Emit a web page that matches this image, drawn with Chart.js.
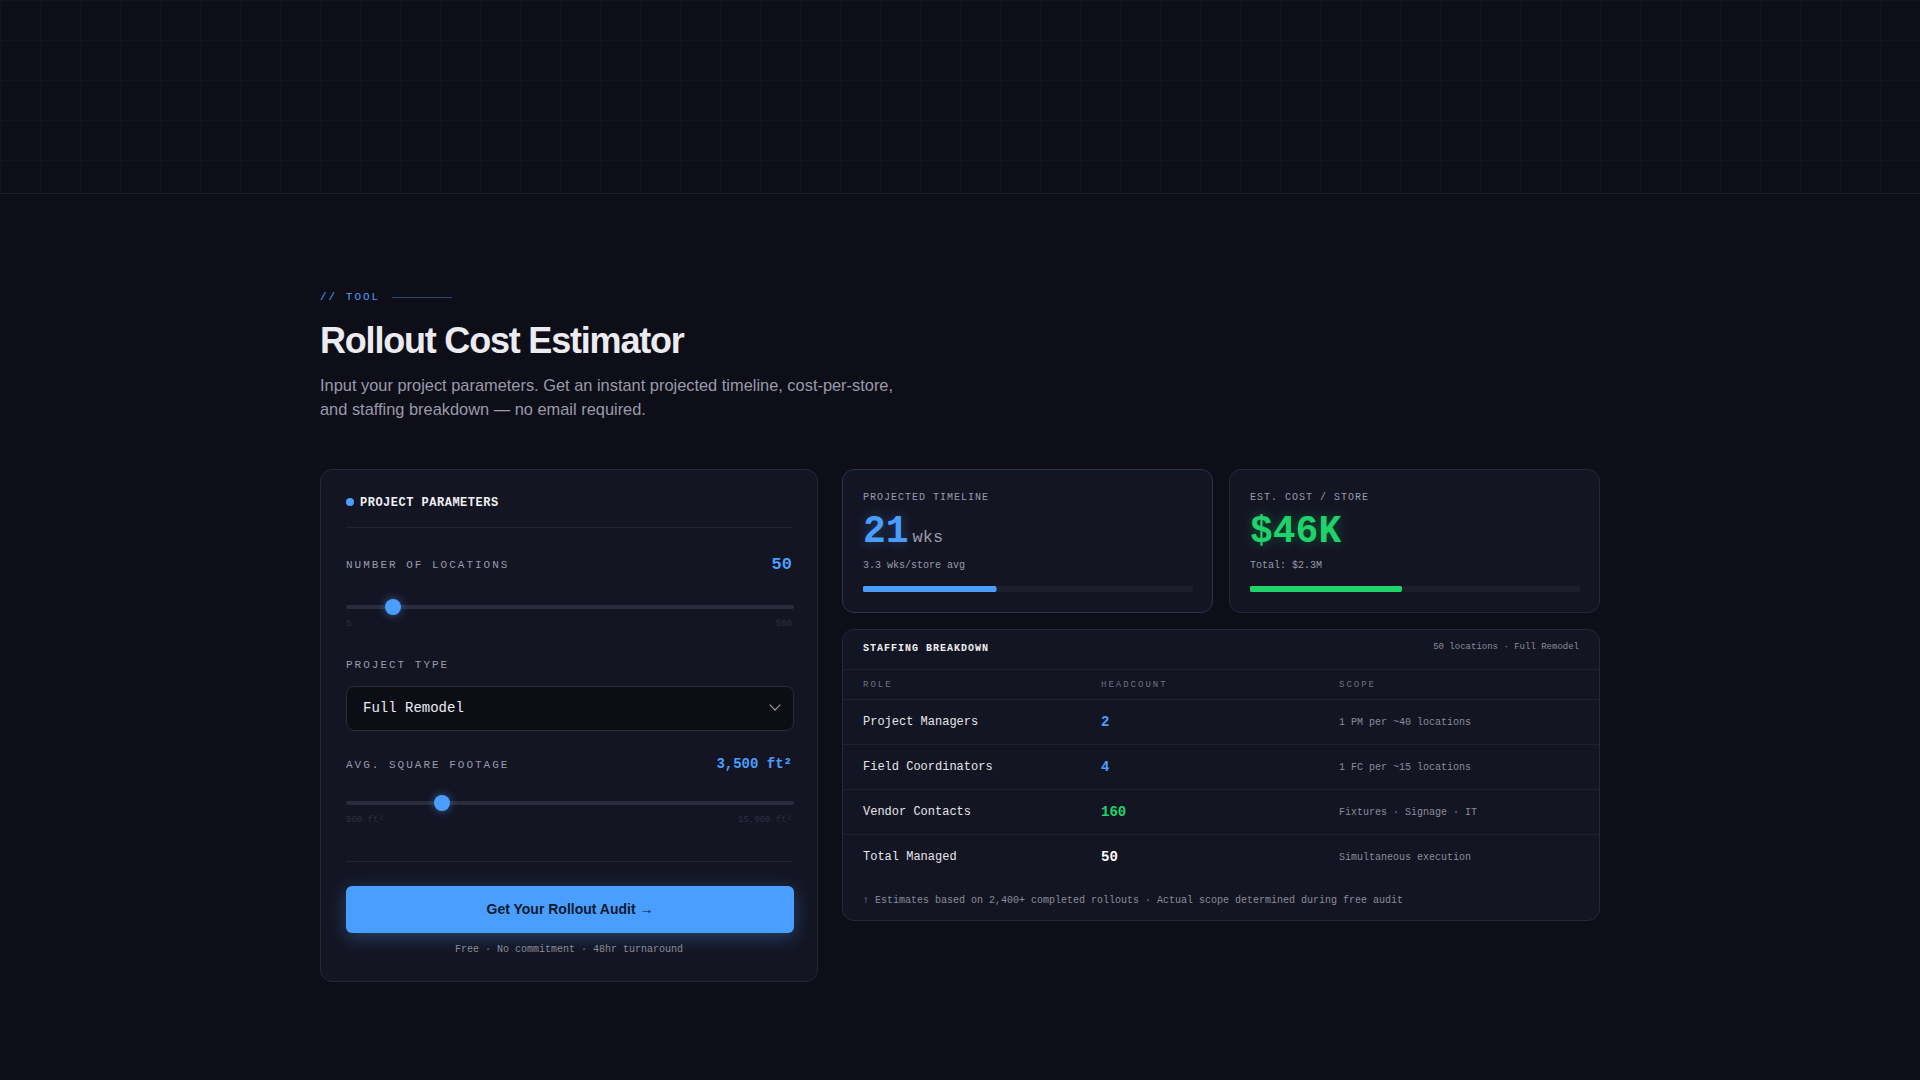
<!DOCTYPE html>
<html>
<head>
<meta charset="utf-8">
<script src="https://cdn.jsdelivr.net/npm/chart.js@4"></script>
<style>
  body { margin:0; width:1920px; height:1080px; background:#0e0e19; color:#e8e8ee; font-family:"Liberation Sans", Arial, sans-serif; overflow:hidden; position:relative; }
  .grid-band { position:absolute; left:0; top:0; width:1920px; height:193px; border-bottom:1px solid #1c1c2a;
    background-image:linear-gradient(#16162299 1px, transparent 1px), linear-gradient(90deg, #16162299 1px, transparent 1px); background-size:40px 40px; }
  .mono { font-family:"Liberation Mono", monospace; }
  .tag { position:absolute; left:320px; top:291px; font-size:11px; letter-spacing:2px; color:#4a9eff; }
  .tag:after { content:""; display:inline-block; width:60px; height:1px; background:#2c4a78; margin-left:12px; vertical-align:middle; }
  h1 { position:absolute; left:320px; top:320px; margin:0; font-size:36px; font-weight:bold; letter-spacing:-1.2px; color:#ecebf0; }
  .sub { position:absolute; left:320px; top:373px; font-size:16.4px; line-height:24px; color:#9a9aaa; }
  .panel { position:absolute; background:#141523; border:1px solid #26283a; border-radius:12px; box-sizing:border-box; }
  .lbl { font-family:"Liberation Mono", monospace; font-size:11px; letter-spacing:2px; color:#9a9aaa; }
  .track { position:absolute; height:4px; background:#2a2c3c; border-radius:2px; }
  .thumb { position:absolute; width:16px; height:16px; border-radius:50%; background:#4a9eff; box-shadow:0 0 8px #4a9eff88; top:-6px; margin-left:-8px; }
  .tiny { position:absolute; font-family:"Liberation Mono", monospace; font-size:9px; color:#2e3040; }
  table { border-collapse:collapse; width:100%; font-family:"Liberation Mono", monospace; }
  td, th { text-align:left; padding:0 20px; border-top:1px solid #1f2131; }
  th { font-size:9px; letter-spacing:2px; color:#70727f; font-weight:normal; height:29px; }
  td { height:44px; font-size:12px; color:#e6e6ec; }
  td.scope { font-size:10px; color:#8a8c99; }
  td.hc { font-size:14px; font-weight:bold; }
</style>
</head>
<body>
<div class="grid-band"></div>
<div class="tag mono">// TOOL</div>
<h1>Rollout Cost Estimator</h1>
<div class="sub">Input your project parameters. Get an instant projected timeline, cost-per-store,<br>and staffing breakdown — no email required.</div>

<div class="panel" style="left:320px;top:469px;width:498px;height:513px;">
  <div style="position:absolute;left:25px;top:26px;font-family:'Liberation Mono',monospace;font-size:12px;font-weight:bold;letter-spacing:0.5px;color:#f0f0f4;">
    <span style="display:inline-block;width:8px;height:8px;border-radius:50%;background:#4a9eff;margin-right:6px;"></span>PROJECT PARAMETERS</div>
  <div style="position:absolute;left:25px;right:25px;top:57px;height:1px;background:#222435;"></div>
  <div class="lbl" style="position:absolute;left:25px;top:89px;">NUMBER OF LOCATIONS</div>
  <div class="mono" style="position:absolute;right:25px;top:85px;font-size:17px;font-weight:bold;color:#4a9eff;" id="locVal"></div>
  <div class="track" style="left:25px;width:448px;top:135px;"><div class="thumb" id="thumb1"></div></div>
  <div class="tiny" style="left:25px;top:149px;">5</div><div class="tiny" style="right:25px;top:149px;">500</div>
  <div class="lbl" style="position:absolute;left:25px;top:189px;">PROJECT TYPE</div>
  <div style="position:absolute;left:25px;top:216px;width:448px;height:45px;box-sizing:border-box;border:1px solid #2a2c3c;border-radius:8px;background:#0d0d16;">
    <span class="mono" style="position:absolute;left:16px;top:13px;font-size:14px;color:#ececf2;" id="ptype"></span>
    <span style="position:absolute;right:14px;top:14px;width:7px;height:7px;border-right:1.5px solid #aaa;border-bottom:1.5px solid #aaa;transform:rotate(45deg);"></span>
  </div>
  <div class="lbl" style="position:absolute;left:25px;top:289px;">AVG. SQUARE FOOTAGE</div>
  <div class="mono" style="position:absolute;right:25px;top:286px;font-size:14px;font-weight:bold;color:#4a9eff;">3,500 ft²</div>
  <div class="track" style="left:25px;width:448px;top:331px;"><div class="thumb" style="left:21.5%"></div></div>
  <div class="tiny" style="left:25px;top:345px;">500 ft²</div><div class="tiny" style="right:25px;top:345px;">15,000 ft²</div>
  <div style="position:absolute;left:25px;right:25px;top:391px;height:1px;background:#222435;"></div>
  <div style="position:absolute;left:25px;top:416px;width:448px;height:47px;border-radius:6px;background:#4a9eff;box-shadow:0 4px 18px #4a9eff55;text-align:center;line-height:47px;font-size:14px;font-weight:bold;color:#0e1a2c;">Get Your Rollout Audit →</div>
  <div class="mono" style="position:absolute;left:0;right:0;top:474px;text-align:center;font-size:10px;color:#8a8c99;">Free · No commitment · 48hr turnaround</div>
</div>

<div class="panel" style="left:842px;top:469px;width:371px;height:144px;border-color:#2a3350;">
  <div class="lbl" style="position:absolute;left:20px;top:22px;font-size:10px;letter-spacing:1px;">PROJECTED TIMELINE</div>
  <div class="mono" style="position:absolute;left:20px;top:40px;"><span style="font-size:38px;font-weight:bold;color:#4a9eff;text-shadow:0 0 12px #4a9eff55;" id="wks"></span><span style="font-size:17px;color:#9a9aaa;margin-left:4px;">wks</span></div>
  <div class="mono" style="position:absolute;left:20px;top:90px;font-size:10px;color:#9a9aaa;">3.3 wks/store avg</div>
  <div style="position:absolute;left:20px;top:116px;width:330px;height:6px;"><canvas id="c1"></canvas></div>
</div>
<div class="panel" style="left:1229px;top:469px;width:371px;height:144px;">
  <div class="lbl" style="position:absolute;left:20px;top:22px;font-size:10px;letter-spacing:1px;">EST. COST / STORE</div>
  <div class="mono" style="position:absolute;left:20px;top:40px;font-size:38px;font-weight:bold;color:#1ed36a;text-shadow:0 0 12px #1ed36a55;" id="cost"></div>
  <div class="mono" style="position:absolute;left:20px;top:90px;font-size:10px;color:#9a9aaa;">Total: $2.3M</div>
  <div style="position:absolute;left:20px;top:116px;width:330px;height:6px;"><canvas id="c2"></canvas></div>
</div>

<div class="panel" style="left:842px;top:629px;width:758px;height:292px;overflow:hidden;">
  <div class="mono" style="position:absolute;left:20px;top:13px;font-size:10px;font-weight:bold;letter-spacing:1px;color:#f0f0f4;">STAFFING BREAKDOWN</div>
  <div class="mono" style="position:absolute;right:20px;top:12px;font-size:9px;color:#8a8c99;">50 locations · Full Remodel</div>
  <div style="position:absolute;left:0;right:0;top:39px;"><table id="tbl"></table></div>
  <div class="mono" style="position:absolute;left:20px;top:265px;font-size:10px;color:#8a8c99;">↑ Estimates based on 2,400+ completed rollouts · Actual scope determined during free audit</div>
</div>

<script>
// values
const locations = 50;
const projectType = "Full Remodel";
const timelineWeeks = 21;
const timelineMax = 52;
const costPerStoreK = 46;
const costMaxK = 100;
const roles = ["Project Managers", "Field Coordinators", "Vendor Contacts", "Total Managed"];
const headcounts = [2, 4, 160, 50];
const headColors = ["#4a9eff", "#4a9eff", "#1ed36a", "#ffffff"];
const scopes = ["1 PM per ~40 locations", "1 FC per ~15 locations", "Fixtures · Signage · IT", "Simultaneous execution"];

document.getElementById("locVal").textContent = locations;
document.getElementById("ptype").textContent = projectType;
document.getElementById("wks").textContent = timelineWeeks;
document.getElementById("cost").textContent = "$" + costPerStoreK + "K";
document.getElementById("thumb1").style.left = ((locations - 5) / 495 * 100 + 1.5) + "%";

// staffing table
var html = '<tr><th style="width:198px">ROLE</th><th style="width:198px">HEADCOUNT</th><th>SCOPE</th></tr>';
roles.forEach(function (r, i) {
    html += '<tr><td>' + r + '</td><td class="hc" style="color:' + headColors[i] + '">' + headcounts[i] +
        '</td><td class="scope">' + scopes[i] + '</td></tr>';
});
document.getElementById("tbl").innerHTML = html;

// progress bars as horizontal bar charts
function progressBar(id, value, max, color) {
    new Chart(document.getElementById(id), {
        type: "bar",
        data: {
            labels: [""],
            datasets: [
                { data: [value], backgroundColor: color, borderRadius: 4, borderSkipped: false, barPercentage: 1, categoryPercentage: 1 },
                { data: [max], backgroundColor: "#1c1e2c", borderRadius: 4, borderSkipped: false, barPercentage: 1, categoryPercentage: 1, grouped: false }
            ]
        },
        options: {
            indexAxis: "y",
            responsive: false,
            animation: false,
            maintainAspectRatio: false,
            plugins: { legend: { display: false }, tooltip: { enabled: false } },
            scales: {
                x: { display: false, min: 0, max: max },
                y: { display: false, stacked: false }
            },
            layout: { padding: 0 }
        }
    });
}
document.getElementById("c1").width = 330; document.getElementById("c1").height = 6;
document.getElementById("c2").width = 330; document.getElementById("c2").height = 6;
progressBar("c1", timelineWeeks, timelineMax, "#4a9eff");
progressBar("c2", costPerStoreK, costMaxK, "#1ed36a");
</script>
</body>
</html>
